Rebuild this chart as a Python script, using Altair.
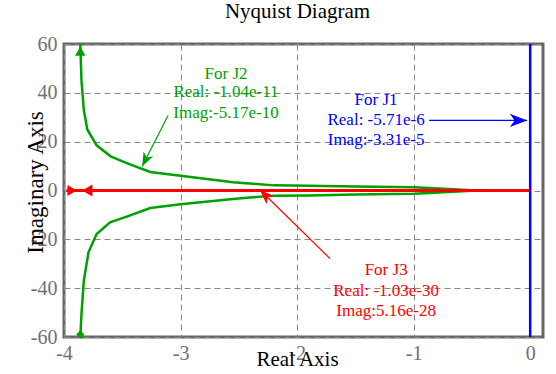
import altair as alt
import pandas as pd

# ---- data ----
# J2 (green) Nyquist curve, upper and lower branches
j2_up_re = [-3.86, -3.85, -3.83, -3.80, -3.72, -3.60, -3.45, -3.26, -3.00, -2.55, -2.20, -1.90, -1.50, -1.00, -0.70, -0.50, 0.0]
j2_up_im = [60.0, 45.0, 33.0, 25.0, 18.5, 14.0, 11.0, 7.6, 6.0, 3.4, 2.1, 1.9, 1.6, 1.3, 0.6, 0.1, 0.0]
j2_lo_re = [-3.86, -3.85, -3.83, -3.79, -3.72, -3.605, -3.45, -3.26, -3.00, -2.55, -2.20, -1.90, -1.50, -1.00, -0.70, -0.50, 0.0]
j2_lo_im = [-60.0, -50.5, -37.0, -25.3, -17.8, -13.0, -10.5, -7.2, -5.6, -3.5, -2.1, -2.0, -1.6, -1.3, -0.6, -0.1, 0.0]
# J3 (red) curve along the real axis
j3_re = [-3.98, 0.0]
j3_im = [0.0, 0.0]
# J1 (blue) curve along the imaginary axis
j1_re = [0.0, 0.0]
j1_im = [-60.0, 60.0]

# direction markers
mk_re = [-3.86, -3.86, -3.93, -3.80]
mk_im = [57.0, -59.0, 0.0, 0.0]
mk_shape = ["triangle-up", "diamond", "triangle-right", "triangle-left"]
mk_color = ["#00a000", "#00a000", "#ff0000", "#ff0000"]
mk_size = [110, 70, 120, 140]

# annotations
ann_text = ["For J2", "Real: -1.04e-11", "Imag:-5.17e-10",
            "For J1", "Real: -5.71e-6", "Imag:-3.31e-5",
            "For J3", "Real: -1.03e-30", "Imag:5.16e-28"]
ann_re = [-2.61, -2.61, -2.61, -1.322, -1.322, -1.322, -1.236, -1.236, -1.236]
ann_im = [47.9, 40.2, 31.6, 36.9, 28.7, 20.5, -32.4, -41.0, -49.2]
ann_color = ["#00a000"] * 3 + ["#0000ff"] * 3 + ["#ff0000"] * 3

# annotation arrows: start -> tip
arr_re0 = [-3.107, -0.867, -1.717]
arr_im0 = [30.7, 28.7, -27.9]
arr_re1 = [-3.33, -0.026, -2.32]
arr_im1 = [9.8, 28.7, 0.3]
arr_angle = [206.6, 90.0, 314.2]
arr_size = [800, 1200, 900]
arr_color = ["#00a000", "#0000ff", "#ff0000"]

x_ticks = [-4, -3, -2, -1, 0]
y_ticks = [-60, -40, -20, 0, 20, 40, 60]

FONT = "Liberation Serif"
HYPHEN = "datum.value < 0 ? '-' + abs(datum.value) : '' + datum.value"

xs = alt.Scale(domain=[-4, 0.11], nice=False, zero=False)
ys = alt.Scale(domain=[-60, 60], nice=False, zero=False)

X = alt.X("x:Q", scale=xs, axis=alt.Axis(
    values=x_ticks, title="Real Axis", titleX=233, titleY=28,
    titleAlign="center", titleBaseline="alphabetic",
    labelFlush=False, labelExpr=HYPHEN))
Y = alt.Y("y:Q", scale=ys, axis=alt.Axis(
    values=y_ticks, title="Imaginary Axis", titleX=-22, titleY=138,
    titleAlign="center", titleBaseline="alphabetic", titleAngle=270,
    titleFontSize=23, labelFlush=False, labelExpr=HYPHEN))

up = pd.DataFrame({"x": j2_up_re, "y": j2_up_im, "o": range(len(j2_up_re))})
lo = pd.DataFrame({"x": j2_lo_re, "y": j2_lo_im, "o": range(len(j2_lo_re))})
j3 = pd.DataFrame({"x": j3_re, "y": j3_im, "o": [0, 1]})
j1 = pd.DataFrame({"x": j1_re, "y": j1_im, "o": [0, 1]})
mk = pd.DataFrame({"x": mk_re, "y": mk_im, "shape": mk_shape, "c": mk_color, "s": mk_size})
ann = pd.DataFrame({"x": ann_re, "y": ann_im, "t": ann_text, "c": ann_color})
arr = pd.DataFrame({"x": arr_re0, "y": arr_im0, "x2": arr_re1, "y2": arr_im1,
                    "a": arr_angle, "s": arr_size, "c": arr_color})
arr_tip = pd.DataFrame({"x": arr_re1, "y": arr_im1, "a": arr_angle, "s": arr_size, "c": arr_color})

def curve(df, color, width=2.5):
    return alt.Chart(df).mark_line(color=color, strokeWidth=width, clip=True).encode(
        x=X, y=Y, order="o:Q")

lines = [curve(up, "#00a000"), curve(lo, "#00a000"),
         curve(j3, "#ff0000", 3), curve(j1, "#0000ff", 2.5)]

markers = alt.Chart(mk).mark_point(filled=True, opacity=1).encode(
    x=X, y=Y,
    shape=alt.Shape("shape:N", scale=None),
    color=alt.Color("c:N", scale=None),
    size=alt.Size("s:Q", scale=None))

arrow_lines = alt.Chart(arr).mark_rule(strokeWidth=1.2).encode(
    x=X, y=Y, x2="x2:Q", y2="y2:Q", color=alt.Color("c:N", scale=None))

arrow_heads = alt.Chart(arr_tip).mark_point(
    filled=True, opacity=1, shape="M0,0 L0.38,1 L0,0.72 L-0.38,1 Z").encode(
    x=X, y=Y, angle=alt.Angle("a:Q", scale=None),
    size=alt.Size("s:Q", scale=None), color=alt.Color("c:N", scale=None))

texts = alt.Chart(ann).mark_text(font=FONT, fontSize=17, align="center",
                                 baseline="middle").encode(
    x=X, y=Y, text="t:N", color=alt.Color("c:N", scale=None))

chart = alt.layer(*lines, arrow_lines, arrow_heads, markers, texts).properties(
    width=479, height=293,
    title=alt.TitleParams("Nyquist Diagram", font=FONT, fontSize=21,
                          fontWeight="normal", color="black", offset=12, dx=-6),
    autosize=alt.AutoSizeParams(type="none"),
    padding={"left": 64, "top": 44, "right": 13, "bottom": 37},
).configure_view(stroke="#666666", strokeWidth=3).configure_axis(
    labelFont=FONT, labelFontSize=20, labelColor="#707070",
    titleFont=FONT, titleFontSize=21, titleColor="black", titleFontWeight="normal",
    ticks=False, tickSize=0, labelPadding=6, domain=False,
    grid=True, gridColor="#888888", gridDash=[6, 4], gridWidth=1, gridOpacity=1,
).configure_axisY(labelPadding=7)

chart.save("out.html", embed_options={"renderer": "svg", "actions": False})
